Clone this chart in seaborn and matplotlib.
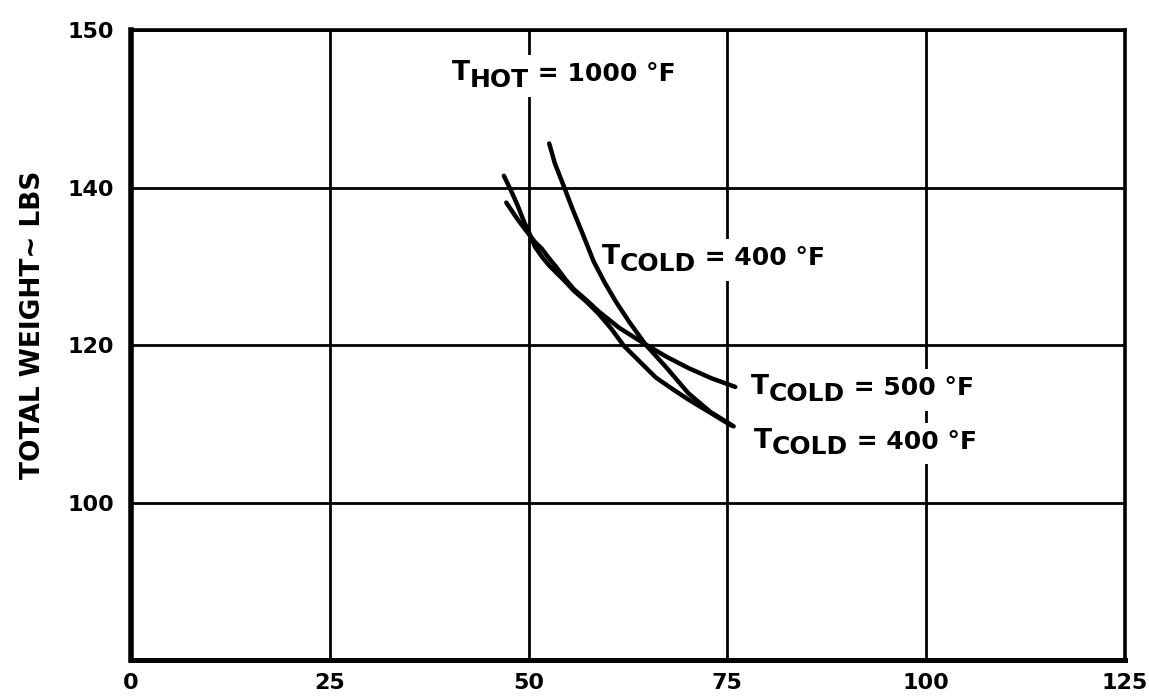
import pandas as pd
import matplotlib
matplotlib.use('Agg')
import matplotlib.pyplot as plt
from matplotlib.patches import Rectangle
from matplotlib.transforms import Bbox
import seaborn as sns

# curves (x ~ 0-125 axis, y ~ total weight in lbs)
cold400_a_x = [52.6, 53.3, 54.5, 55.6, 56.7, 58.2, 59.6, 61.0, 62.7, 64.7, 67.3, 70.1, 72.9, 75.8]
cold400_a_y = [145.6, 143.1, 140.0, 137.1, 134.4, 130.6, 127.9, 125.5, 122.9, 120.1, 117.2, 113.9, 111.5, 109.7]

cold400_b_x = [46.9, 47.8, 48.6, 49.3, 50.1, 50.8, 51.7, 52.6, 53.5, 54.6, 55.7, 57.3, 58.8,
               60.4, 62.0, 63.9, 66.0, 68.0, 70.1, 72.9, 75.5]
cold400_b_y = [141.5, 139.6, 137.8, 136.0, 134.2, 132.5, 131.2, 130.1, 129.2, 128.1, 126.9, 125.5, 124.0,
               122.1, 119.9, 118.0, 115.9, 114.5, 113.1, 111.4, 109.8]

cold500_x = [47.2, 48.6, 50.1, 50.8, 51.7, 52.6, 53.5, 54.6, 55.7, 57.3, 58.8, 61.4, 64.7,
             67.4, 70.1, 73.0, 76.0]
cold500_y = [138.1, 136.0, 134.0, 133.1, 132.2, 131.0, 129.9, 128.4, 127.1, 125.7, 124.3, 122.2, 120.1,
             118.5, 117.1, 115.8, 114.7]

x_ticks = [0, 25, 50, 75, 100, 125]
y_ticks = [100, 120, 140, 160]
y_tick_labels = ['100', '120', '140', '150']  # top label reads 150 on the original sheet

df = pd.concat([
    pd.DataFrame({'x': cold400_a_x, 'y': cold400_a_y, 'curve': 'cold400_a'}),
    pd.DataFrame({'x': cold400_b_x, 'y': cold400_b_y, 'curve': 'cold400_b'}),
    pd.DataFrame({'x': cold500_x, 'y': cold500_y, 'curve': 'cold500'}),
])

sns.set_style('white')
plt.rcParams['font.family'] = ['DejaVu Sans']
plt.rcParams['font.weight'] = 'bold'
plt.rcParams['text.color'] = 'black'
plt.rcParams['xtick.color'] = 'black'
plt.rcParams['ytick.color'] = 'black'

fig = plt.figure(figsize=(11.49, 6.98), dpi=100)
ax = fig.add_axes([0.114, 0.054, 0.865, 0.903])

sns.lineplot(data=df, x='x', y='y', hue='curve', units='curve', estimator=None,
             palette={'cold400_a': 'black', 'cold400_b': 'black', 'cold500': 'black'},
             linewidth=3.2, legend=False, ax=ax, zorder=4,
             solid_capstyle='round', solid_joinstyle='round')

ax.set_xlim(0, 125)
ax.set_ylim(80, 160)
ax.set_xticks(x_ticks)
ax.set_yticks(y_ticks)
ax.set_yticklabels(y_tick_labels)
ax.set_xlabel('')
ax.set_ylabel('')
ax.tick_params(axis='both', length=0, labelsize=16, labelcolor='black')
ax.tick_params(axis='y', pad=12)
ax.tick_params(axis='x', pad=9)
for lab in ax.get_xticklabels() + ax.get_yticklabels():
    lab.set_fontweight('bold')

ax.set_axisbelow(True)
ax.grid(True, color='black', linewidth=2.0)

ax.spines['left'].set_linewidth(4.0)
ax.spines['bottom'].set_linewidth(3.6)
ax.spines['top'].set_linewidth(2.6)
ax.spines['right'].set_linewidth(2.6)
for s in ax.spines.values():
    s.set_color('black')

FS = 18
labels = []


def temp_label(x, y, sub, rest):
    t = ax.text(x, y, 'T', fontsize=FS + 1, fontweight='bold', va='baseline', ha='left',
                zorder=3)
    s = ax.annotate(sub, xy=(1, 0), xycoords=t, xytext=(0, -4), textcoords='offset points',
                    fontsize=FS, fontweight='bold', va='bottom', ha='left', zorder=3)
    r = ax.annotate(rest, xy=(1, 0), xycoords=s, xytext=(0, 4), textcoords='offset points',
                    fontsize=FS, fontweight='bold', va='bottom', ha='left', zorder=3)
    labels.append([t, s, r])


temp_label(40.3, 153.6, 'HOT', ' = 1000 °F')
temp_label(59.2, 130.3, 'COLD', ' = 400 °F')
temp_label(78.0, 113.8, 'COLD', ' = 500 °F')
temp_label(78.3, 107.0, 'COLD', ' = 400 °F')

fig.text(0.029, 0.534, 'TOTAL WEIGHT~ LBS', rotation=90, ha='center', va='center',
         fontsize=19, fontweight='bold')

# white patches behind the labels so the grid lines break around them
fig.canvas.draw()
renderer = fig.canvas.get_renderer()
inv = ax.transData.inverted()
for group in labels:
    bb = Bbox.union([a.get_window_extent(renderer) for a in group]).padded(5)
    (x0, y0), (x1, y1) = inv.transform([[bb.x0, bb.y0], [bb.x1, bb.y1]])
    ax.add_patch(Rectangle((x0, y0), x1 - x0, y1 - y0, facecolor='white',
                           edgecolor='none', zorder=1.5))

fig.savefig('out.png', dpi=100)
